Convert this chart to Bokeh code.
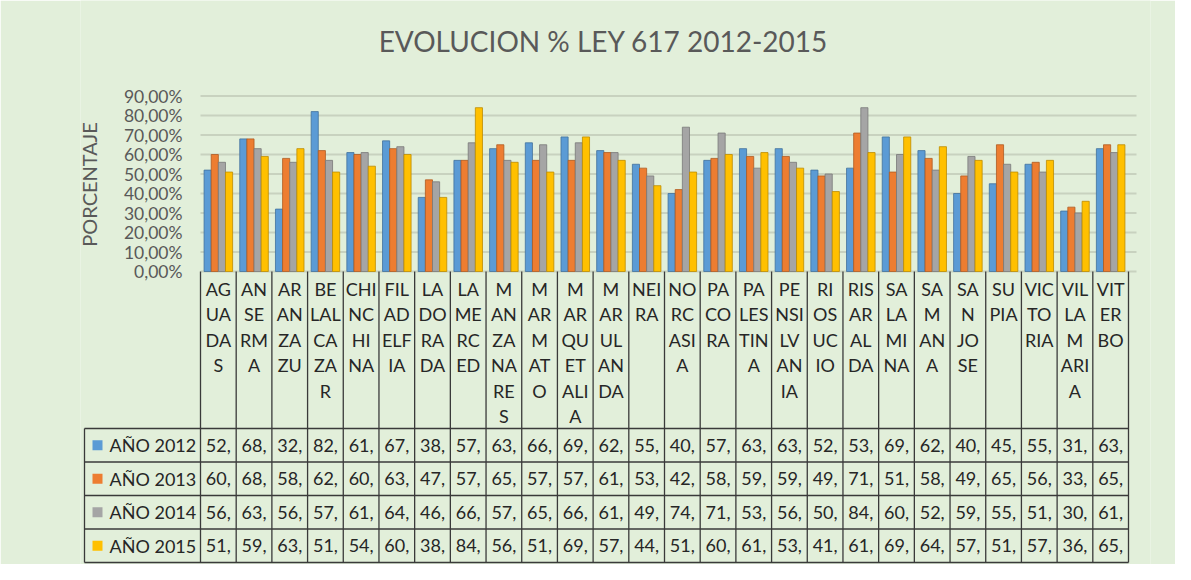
from math import pi
from bokeh.plotting import figure
from bokeh.models import Range1d, ColumnDataSource
from bokeh.core.properties import value
from bokeh.embed import file_html
from bokeh.resources import INLINE

# ---------------- data ----------------
categories = ["AGUADAS", "ANSERMA", "ARANZAZU", "BELALCAZAR", "CHINCHINA", "FILADELFIA",
              "LA DORADA", "LA MERCED", "MANZANARES", "MARMATO", "MARQUETALIA", "MARULANDA",
              "NEIRA", "NORCASIA", "PACORA", "PALESTINA", "PENSILVANIA", "RIOSUCIO",
              "RISARALDA", "SALAMINA", "SAMANA", "SAN JOSE", "SUPIA", "VICTORIA",
              "VILLAMARIA", "VITERBO"]
category_labels = ["AG\nUA\nDA\nS", "AN\nSE\nRM\nA", "AR\nAN\nZA\nZU", "BE\nLAL\nCA\nZA\nR",
                   "CHI\nNC\nHI\nNA", "FIL\nAD\nELF\nIA", "LA\nDO\nRA\nDA", "LA\nME\nRC\nED",
                   "M\nAN\nZA\nNA\nRE\nS", "M\nAR\nM\nAT\nO", "M\nAR\nQU\nET\nALI\nA",
                   "M\nAR\nUL\nAN\nDA", "NEI\nRA", "NO\nRC\nASI\nA", "PA\nCO\nRA",
                   "PA\nLES\nTIN\nA", "PE\nNSI\nLV\nAN\nIA", "RI\nOS\nUC\nIO", "RIS\nAR\nAL\nDA",
                   "SA\nLA\nMI\nNA", "SA\nM\nAN\nA", "SA\nN\nJO\nSE", "SU\nPIA", "VIC\nTO\nRIA",
                   "VIL\nLA\nM\nARI\nA", "VIT\nER\nBO"]
series_names = ["AÑO 2012", "AÑO 2013", "AÑO 2014", "AÑO 2015"]
y2012 = [52, 68, 32, 82, 61, 67, 38, 57, 63, 66, 69, 62, 55, 40, 57, 63, 63, 52, 53, 69, 62, 40, 45, 55, 31, 63]
y2013 = [60, 68, 58, 62, 60, 63, 47, 57, 65, 57, 57, 61, 53, 42, 58, 59, 59, 49, 71, 51, 58, 49, 65, 56, 33, 65]
y2014 = [56, 63, 56, 57, 61, 64, 46, 66, 57, 65, 66, 61, 49, 74, 71, 53, 56, 50, 84, 60, 52, 59, 55, 51, 30, 61]
y2015 = [51, 59, 63, 51, 54, 60, 38, 84, 56, 51, 69, 57, 44, 51, 60, 61, 53, 41, 61, 69, 64, 57, 51, 57, 36, 65]
yticks = [0, 10, 20, 30, 40, 50, 60, 70, 80, 90]
ytick_labels = ["0,00%", "10,00%", "20,00%", "30,00%", "40,00%", "50,00%",
                "60,00%", "70,00%", "80,00%", "90,00%"]
title_text = "EVOLUCION % LEY 617 2012-2015"
yaxis_title = "PORCENTAJE"

# ---------------- style / layout ----------------
colors = ["#5B9BD5", "#ED7D31", "#A5A5A5", "#FFC000"]
edge_colors = ["#41719C", "#AE5A21", "#787878", "#BC8C00"]
BG = "#E2EFDA"
GRID = "#C8D2BF"
TXT_GRAY = "#595959"
TXT_DARK = "#262626"
TABLE_LINE = "#3A3A3A"
FONT = value("Lato")

N = len(categories)
OFFY = 6                       # layout y (reference) -> figure y shift
X0 = 200.0                     # x of left edge of first column
X1 = 1128.0                    # x of right edge of last column
COLW = (X1 - X0) / N           # px per category
BASE = 277.0                   # y of 0 %
PXY = 1.95                     # px per percent


def dx(px):
    return (px - X0) / COLW - 0.5


def dy(py):
    return (BASE - py) / PXY


W, H = 1175, 564
FL, FR = 80, 1150               # frame left/right

p = figure(width=W, height=H, output_backend="svg", toolbar_location=None,
           x_axis_location=None, y_axis_location=None,
           x_range=Range1d(dx(FL), dx(FR)), y_range=Range1d(dy(OFFY + H), dy(OFFY)),
           min_border_left=FL, min_border_right=W - FR,
           min_border_top=0, min_border_bottom=0,
           background_fill_color=BG, border_fill_color=BG, outline_line_color=None)
p.grid.grid_line_color = None

# gridlines
p.segment(x0=[-0.5] * len(yticks), x1=[dx(1136)] * len(yticks), y0=yticks, y1=yticks,
          line_color=GRID, line_width=2)

# y tick labels
p.text(x=[-0.5] * len(yticks), y=yticks, text=ytick_labels, x_offset=-18,
       text_align="right", text_baseline="middle", text_font=FONT,
       text_font_size="17.5px", text_color=TXT_GRAY)

# y axis title
p.text(x=[dx(88)], y=[dy(190)], text=[yaxis_title], angle=pi / 2,
       text_align="center", text_baseline="middle", text_font=FONT,
       text_font_size="20px", text_color=TXT_GRAY)

# title
p.text(x=[dx(603)], y=[dy(46)], text=[title_text], text_align="center",
       text_baseline="middle", text_font=FONT, text_font_size="28px",
       text_color=TXT_GRAY)

# bars
series = [y2012, y2013, y2014, y2015]
offsets = [-0.3, -0.1, 0.1, 0.3]
idx = list(range(N))
for s, off, c, ec, name in zip(series, offsets, colors, edge_colors, series_names):
    src = ColumnDataSource(dict(x=[i + off for i in idx], top=s))
    p.vbar(x="x", top="top", bottom=0, width=0.2, source=src,
           fill_color=c, line_color=ec, line_width=0.8)

# ---------------- data table ----------------
ROW_TOP = 434.0
ROW_H = 33.5
TABLE_LEFT = 84.0
row_edges = [ROW_TOP + k * ROW_H for k in range(len(series) + 1)]
TABLE_BOTTOM = row_edges[-1]

# vertical column lines
p.segment(x0=[i - 0.5 for i in range(N + 1)], x1=[i - 0.5 for i in range(N + 1)],
          y0=[0] * (N + 1), y1=[dy(TABLE_BOTTOM)] * (N + 1),
          line_color=TABLE_LINE, line_width=1.3)
# legend column left border
p.segment(x0=[dx(TABLE_LEFT)], x1=[dx(TABLE_LEFT)], y0=[dy(ROW_TOP)], y1=[dy(TABLE_BOTTOM)],
          line_color=TABLE_LINE, line_width=1.3)
# horizontal row lines
p.segment(x0=[dx(TABLE_LEFT)] * len(row_edges), x1=[N - 0.5] * len(row_edges),
          y0=[dy(r) for r in row_edges], y1=[dy(r) for r in row_edges],
          line_color=TABLE_LINE, line_width=1.3)

# category labels
p.text(x=idx, y=[dy(283)] * N, text=category_labels, text_align="center",
       text_baseline="top", text_font=FONT, text_font_size="18px",
       text_line_height=1.16, text_color=TXT_DARK)

# legend keys + names, values
for k, (s, c, name) in enumerate(zip(series, colors, series_names)):
    yc = dy(row_edges[k] + ROW_H / 2)
    p.scatter(x=[dx(97)], y=[yc], marker="square", size=10, fill_color=c, line_color=None)
    p.text(x=[dx(109)], y=[yc], text=[name], text_align="left", text_baseline="middle",
           text_font=FONT, text_font_size="18px", text_color=TXT_DARK)
    p.text(x=idx, y=[yc] * N, text=[f"{v}," for v in s], text_align="center",
           text_baseline="middle", text_font=FONT, text_font_size="18px",
           text_color=TXT_DARK)

open("out.html", "w").write(file_html(p, INLINE))
